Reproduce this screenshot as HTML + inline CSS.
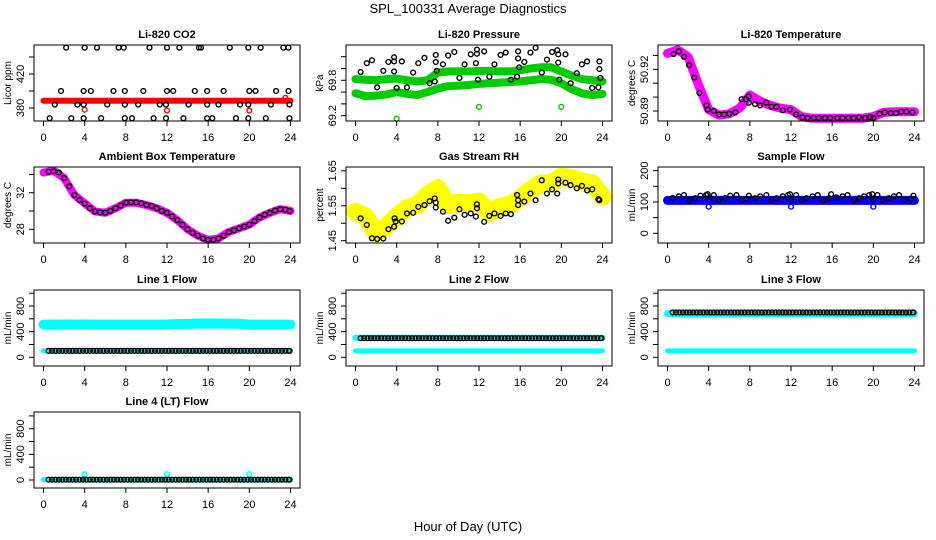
<!DOCTYPE html>
<html><head><meta charset="utf-8"><style>
html,body{margin:0;padding:0;background:#fff;}
svg{display:block;font-family:"Liberation Sans",Arial,sans-serif;}
</style></head><body>
<svg id="chart" width="936" height="540" viewBox="0 0 936 540">
<text x="468" y="13" text-anchor="middle" font-size="13">SPL_100331  Average Diagnostics</text>
<text x="468" y="531" text-anchor="middle" font-size="13">Hour of Day (UTC)</text>
</svg>
<script>
// ---------- data ----------
const hours = [0,1,2,3,4,5,6,7,8,9,10,11,12,13,14,15,16,17,18,19,20,21,22,23,24];
const xTicks = [0,4,8,12,16,20,24];

const co2Red = [388.5,388.5,388.5,388.5,388.5,388.5,388.5,388.5,388.5,388.5,388.5,388.5,388.5,388.5,388.5,388.5,388.5,388.5,388.5,388.5,388.5,388.5,388.5,388.5,388.5];
const co2RedOutT = [4,12,20,23.5];
const co2RedOutV = [378,377,377,392];
const co2BlackT = [2.2,4,5.2,7.3,7.8,10.3,12,13.2,15.1,15.3,18.1,19.9,21.1,23.3,23.8,
 1.7,3.9,4.6,6.8,7.9,9.7,12,12.6,14.7,15.9,17.5,20,20.6,22.6,23.8,
 1.1,3.3,3.9,6.2,7.9,9.2,11.3,11.9,14.1,15.9,17,19.1,19.9,22.1,23.9,
 0.6,2.7,3.9,5.6,7.9,8.6,10.7,11.9,13.6,15.9,16.4,18.7,19.9,21.6,23.9];
const co2BlackV = [451,451,451,451,451,451,451,451,451,451,451,451,451,451,451,
 400,400,400,400,400,400,400,400,400,400,400,400,400,400,400,
 384,384,384,384,384,384,384,384,384,384,384,384,384,384,384,
 368,368,368,368,368,368,368,368,368,368,368,368,368,368,368];

const presUpper = [69.82,69.81,69.80,69.82,69.83,69.80,69.78,69.80,69.93,69.95,69.95,69.95,69.96,69.96,69.95,69.95,69.97,70.00,70.02,70.02,69.95,69.88,69.82,69.80,69.78];
const presLower = [69.58,69.53,69.54,69.56,69.60,69.57,69.55,69.60,69.66,69.70,69.71,69.72,69.74,69.75,69.76,69.77,69.78,69.80,69.82,69.81,69.75,69.65,69.58,69.55,69.57];
const presGreenOutT = [0.1,4,12,20];
const presGreenOutV = [69.8,69.15,69.35,69.35];
const presBlackT = [0.5,1.1,1.6,2.1,2.7,3.2,3.75,3.75,3.75,4,4.5,5,5.6,6.1,6.7,7.2,7.7,7.8,7.8,7.9,8.5,9,9.6,10.1,10.6,11.2,11.7,11.8,11.8,11.9,12.5,13,13.5,14.1,14.6,15.1,15.7,15.8,15.8,15.9,16.4,17,17.5,18.1,18.6,19.1,19.6,19.7,19.7,19.8,20.4,20.9,21.5,22,22.5,23,23.6,23.7,23.7,23.8];
const presBlackV = [69.94,70.09,70.14,69.68,69.96,70.11,70.19,70.12,69.95,69.67,70.12,69.68,69.93,70.09,70.18,69.75,69.78,70.23,70.11,69.96,70.07,70.22,70.28,69.84,70.07,70.24,70.09,70.32,70.25,69.81,70.29,69.86,70.07,70.23,70.27,69.81,69.86,70.29,70.17,70.02,70.11,70.27,70.35,69.93,70.15,70.28,70.31,70.24,70.10,69.81,70.24,69.75,69.92,70.07,70.12,69.67,69.68,70.12,69.99,69.84];

const tempMag = [50.9315,50.934,50.929,50.909,50.891,50.887,50.888,50.892,50.9015,50.897,50.894,50.892,50.891,50.886,50.8848,50.8848,50.8848,50.8848,50.8848,50.8848,50.886,50.889,50.8895,50.8895,50.8895];
const tempBlackT = [0.6,1.1,1.6,2.1,2.6,3.1,3.8,3.9,4.5,5,5.5,6,6.6,7.2,7.6,7.9,7.9,8.5,9,9.6,10.1,10.6,11.2,11.9,12.5,13.1,13.6,14.2,14.7,15.3,15.8,16.5,17,17.6,18.1,18.6,19.2,19.7,20,20.6,21.1,21.7,22.2,22.7,23.2,23.8];
const tempBlackV = [50.931,50.933,50.929,50.923,50.914,50.903,50.894,50.891,50.890,50.8875,50.8875,50.888,50.889,50.8985,50.8985,50.9005,50.896,50.895,50.894,50.896,50.893,50.893,50.8905,50.891,50.8875,50.8855,50.885,50.885,50.885,50.885,50.885,50.885,50.885,50.885,50.885,50.8855,50.885,50.8855,50.885,50.888,50.889,50.8885,50.8885,50.8895,50.8895,50.889];

const ambMag = [34.2,34.4,33.6,31.75,30.85,29.95,29.8,30.3,30.9,30.9,30.65,30.3,29.8,29.0,28.0,27.3,26.85,27.0,27.7,28.1,28.5,29.3,29.8,30.2,30.0];
const ambBlackT = [0.5,1,1.5,2,2.5,3,3.5,4,4.5,5,5.5,6,6.5,7,7.5,8,8.5,9,9.5,10,10.5,11,11.5,12,12.5,13,13.5,14,14.5,15,15.5,16,16.5,17,17.5,18,18.5,19,19.5,20,20.5,21,21.5,22,22.5,23,23.5,23.9];
const ambBlackV = [34.3,34.35,34.2,33.6,32.7,31.75,31.2,30.8,30.3,29.95,29.85,29.8,30.0,30.3,30.6,30.9,30.95,30.95,30.85,30.65,30.55,30.3,30.0,29.8,29.4,29.0,28.5,28.0,27.6,27.3,27.0,26.85,26.85,27.0,27.3,27.7,27.9,28.1,28.3,28.5,28.9,29.3,29.6,29.8,30.05,30.2,30.15,30.0];

const rhYellow = [1.533,1.519,1.471,1.490,1.519,1.543,1.552,1.581,1.600,1.552,1.559,1.557,1.562,1.528,1.547,1.552,1.571,1.595,1.614,1.614,1.633,1.629,1.619,1.614,1.576];
const rhBlackT = [0.5,1.1,1.6,2.1,2.7,3.2,3.75,3.8,3.9,4.5,5,5.6,6.1,6.7,7.2,7.7,7.8,7.8,8.5,9,9.6,10.1,10.6,11.2,11.7,11.8,11.8,12.5,13,13.5,14.1,14.6,15.1,15.7,15.8,15.8,16.4,17,17.5,18.1,18.6,19.1,19.6,19.7,19.7,20.4,20.9,21.5,22,22.5,23,23.6,23.7];
const rhBlackV = [1.514,1.495,1.457,1.455,1.456,1.483,1.490,1.514,1.505,1.505,1.528,1.530,1.547,1.552,1.563,1.571,1.545,1.559,1.533,1.507,1.516,1.540,1.524,1.528,1.519,1.554,1.543,1.504,1.521,1.528,1.521,1.528,1.526,1.581,1.552,1.566,1.562,1.585,1.566,1.623,1.585,1.597,1.585,1.625,1.614,1.616,1.609,1.600,1.607,1.594,1.597,1.569,1.566];

const sampleBlue = [105,105,105,105,105,105,105,105,105,105,105,105,105,105,105,105,105,105,105,105,105,105,105,105,105];
const sampleBlueOutT = [4,12,20];
const sampleBlueOutV = [85,85,85];
const sampleBlackT = [0.5,1.1,1.6,2.1,2.7,3.2,3.75,3.9,4,4.5,5,5.6,6.1,6.7,7.2,7.7,7.9,8.5,9,9.6,10.1,10.6,11.2,11.7,11.9,12,12.5,13,13.5,14.1,14.6,15.1,15.7,15.9,16.4,17,17.5,18.1,18.6,19.1,19.6,19.9,20,20.4,20.9,21.5,22,22.5,23,23.6,23.9];
const sampleBlackV = [113,118,122,105,112,120,122,125,108,122,106,113,120,122,106,110,120,112,118,122,107,112,118,122,125,106,122,107,112,118,122,106,112,125,115,118,122,106,112,118,122,125,105,122,106,112,118,122,107,110,120];

const line1CyanHigh = [510,510,512,512,512,510,510,510,510,510,510,510,512,520,522,525,530,528,525,522,510,510,510,510,510];
const line1CyanLow = [100,100,100,100,100,100,100,100,100,100,100,100,100,100,100,100,100,100,100,100,100,100,100,100,100];
const line1Black = [100,100,100,100,100,100,100,100,100,100,100,100,100,100,100,100,100,100,100,100,100,100,100,100,100];
const line2CyanHigh = [305,305,305,305,305,305,305,305,305,305,305,305,305,305,305,305,305,305,305,305,305,305,305,305,305];
const line2CyanLow = [100,100,100,100,100,100,100,100,100,100,100,100,100,100,100,100,100,100,100,100,100,100,100,100,100];
const line2Black = [298,298,298,298,298,298,298,298,298,298,298,298,298,298,298,298,298,298,298,298,298,298,298,298,298];
const line3CyanHigh = [680,680,675,675,675,675,675,680,680,680,680,680,680,680,680,680,680,680,680,680,680,675,675,680,680];
const line3CyanLow = [100,100,100,100,100,100,100,100,100,100,100,100,100,100,100,100,100,100,100,100,100,100,100,100,100];
const line3Black = [700,700,700,700,700,700,700,700,700,700,700,700,700,700,700,700,700,700,700,700,700,700,700,700,700];
const line4Cyan = [5,5,5,5,5,5,5,5,5,5,5,5,5,5,5,5,5,5,5,5,5,5,5,5,5];
const line4CyanOutT = [4,12,20];
const line4CyanOutV = [90,90,90];
const line4Black = [5,5,5,5,5,5,5,5,5,5,5,5,5,5,5,5,5,5,5,5,5,5,5,5,5];

// ---------- drawing ----------
const NS = 'http://www.w3.org/2000/svg';
const svg = document.getElementById('chart');
const colLeft = [34,346,658];
const rowTop = [45,167,290,412];
const W = 266, H = 76;

function el(tag, attrs, parent) {
  const e = document.createElementNS(NS, tag);
  for (const k in attrs) e.setAttribute(k, attrs[k]);
  parent.appendChild(e);
  return e;
}

function panel(cfg) {
  const left = colLeft[cfg.col], top = rowTop[cfg.row];
  const g = el('g', {}, svg);
  
  
  const x = t => left + 9.5 + t * (247 / 24);
  const y = v => top + (cfg.ymax - v) / (cfg.ymax - cfg.ymin) * H;
  const title = el('text', {x: left + W / 2, y: top - 7, 'text-anchor': 'middle', 'font-size': 11, 'font-weight': 'bold'}, g);
  title.textContent = cfg.title;
  
  
  const plot = el('g', {}, g);
  
  
  const box = el('rect', {x: left, y: top, width: W, height: H, fill: 'none', stroke: '#000', 'stroke-width': 1}, g);
  
  
  xTicks.forEach(t => {
    const tk = el('line', {x1: x(t), x2: x(t), y1: top + H, y2: top + H + 5, stroke: '#000'}, g);
    
    
    const lb = el('text', {x: x(t), y: top + H + 20, 'text-anchor': 'middle', 'font-size': 11}, g);
    lb.textContent = t;
    
    
  });
  cfg.ticks.forEach(v => {
    const tk = el('line', {x1: left - 5, x2: left, y1: y(v), y2: y(v), stroke: '#000'}, g);
    
    
  });
  cfg.labels.forEach(v => {
    const lb = el('text', {x: 0, y: 0, 'text-anchor': 'middle', 'font-size': 11, transform: `translate(${left - 10},${y(v)}) rotate(-90)`}, g);
    lb.textContent = v;
    
    
  });
  const yt = el('text', {x: 0, y: 0, 'text-anchor': 'middle', 'font-size': 10, transform: `translate(${left - 23},${top + H / 2}) rotate(-90)`}, g);
  yt.textContent = cfg.ytitle;
  
  
  return {x, y, g: plot};
}

function band(p, arr, color, width, name) {
  const pts = hours.map((h, i) => p.x(h) + ',' + p.y(arr[i])).join(' ');
  const pl = el('polyline', {points: pts, fill: 'none', stroke: color, 'stroke-width': width, 'stroke-linejoin': 'round', 'stroke-linecap': 'round'}, p.g);
  
  
}
function points(p, ts, vs, color, name) {
  const n = Math.min(ts.length, vs.length);
  for (let i = 0; i < n; i++) {
    const c = el('circle', {cx: p.x(ts[i]), cy: p.y(vs[i]), r: 2.4, fill: 'none', stroke: color, 'stroke-width': 1.4}, p.g);
    
    
  }
}
function hourlyPoints(p, arr, color, name) {
  for (let h = 0; h < 24; h++) {
    for (let k = 0; k < 3; k++) {
      const t = Math.min(23.9, h + 0.5 + k / 3);
      const c = el('circle', {cx: p.x(t), cy: p.y(arr[h]), r: 2.4, fill: 'none', stroke: color, 'stroke-width': 1.4}, p.g);
      
      
    }
  }
}

const flowTicks = [0,200,400,600,800,1000], flowLabels = [0,400,800];

let p = panel({name: 'co2', title: 'Li-820 CO2', col: 0, row: 0, ymin: 364.7, ymax: 454.1, ticks: [380,400,420,440], labels: [380,420], ytitle: 'Licor ppm'});
band(p, co2Red, '#ff0000', 6, 'co2-red-series');
points(p, co2RedOutT, co2RedOutV, '#ff0000', 'co2-red-point');
points(p, co2BlackT, co2BlackV, '#000', 'co2-black-point');

p = panel({name: 'pressure', title: 'Li-820 Pressure', col: 1, row: 0, ymin: 69.110, ymax: 70.398, ticks: [69.2,69.4,69.6,69.8,70.0,70.2], labels: [69.2,69.8], ytitle: 'kPa'});
band(p, presUpper, '#00cc00', 8, 'pressure-green-upper');
band(p, presLower, '#00cc00', 8, 'pressure-green-lower');
points(p, presGreenOutT, presGreenOutV, '#00cc00', 'pressure-green-point');
points(p, presBlackT, presBlackV, '#000', 'pressure-black-point');

p = panel({name: 'li820-temp', title: 'Li-820 Temperature', col: 2, row: 0, ymin: 50.8828, ymax: 50.9375, ticks: [50.89,50.90,50.91,50.92,50.93], labels: [50.89,50.92], ytitle: 'degrees C'});
band(p, tempMag, '#ff00ff', 9, 'li820-temp-magenta');
points(p, tempBlackT, tempBlackV, '#000', 'li820-temp-black-point');

p = panel({name: 'ambient-temp', title: 'Ambient Box Temperature', col: 0, row: 1, ymin: 26.50, ymax: 34.81, ticks: [28,30,32,34], labels: [28,32], ytitle: 'degrees C'});
band(p, ambMag, '#ff00ff', 8, 'ambient-magenta');
points(p, ambBlackT, ambBlackV, '#000', 'ambient-black-point');

p = panel({name: 'gas-rh', title: 'Gas Stream RH', col: 1, row: 1, ymin: 1.4434, ymax: 1.661, ticks: [1.45,1.50,1.55,1.60,1.65], labels: ['1.45','1.55','1.65'].map(Number), ytitle: 'percent'});
band(p, rhYellow, '#ffff00', 18, 'rh-yellow');
points(p, rhBlackT, rhBlackV, '#000', 'rh-black-point');
// fix label formatting for RH
p.g.parentNode.querySelectorAll('text').forEach(t => { if (t.textContent === '1.5' ) t.textContent = '1.50'; });

p = panel({name: 'sample-flow', title: 'Sample Flow', col: 2, row: 1, ymin: -31, ymax: 211.8, ticks: [0,50,100,150,200], labels: [0,100,200], ytitle: 'mL/min'});
band(p, sampleBlue, '#0000ff', 9, 'sample-blue');
points(p, sampleBlueOutT, sampleBlueOutV, '#0000ff', 'sample-blue-point');
points(p, sampleBlackT, sampleBlackV, '#000', 'sample-black-point');

p = panel({name: 'line1-flow', title: 'Line 1 Flow', col: 0, row: 2, ymin: -136, ymax: 1050, ticks: flowTicks, labels: flowLabels, ytitle: 'mL/min'});
band(p, line1CyanHigh, '#00ffff', 10, 'line1-cyan-high');
band(p, line1CyanLow, '#00ffff', 5, 'line1-cyan-low');
hourlyPoints(p, line1Black, '#000', 'line1-black-point');

p = panel({name: 'line2-flow', title: 'Line 2 Flow', col: 1, row: 2, ymin: -136, ymax: 1050, ticks: flowTicks, labels: flowLabels, ytitle: 'mL/min'});
band(p, line2CyanHigh, '#00ffff', 6, 'line2-cyan-high');
band(p, line2CyanLow, '#00ffff', 5, 'line2-cyan-low');
hourlyPoints(p, line2Black, '#000', 'line2-black-point');

p = panel({name: 'line3-flow', title: 'Line 3 Flow', col: 2, row: 2, ymin: -136, ymax: 1050, ticks: flowTicks, labels: flowLabels, ytitle: 'mL/min'});
band(p, line3CyanHigh, '#00ffff', 7, 'line3-cyan-high');
band(p, line3CyanLow, '#00ffff', 5, 'line3-cyan-low');
hourlyPoints(p, line3Black, '#000', 'line3-black-point');

p = panel({name: 'line4-flow', title: 'Line 4 (LT) Flow', col: 0, row: 3, ymin: -125, ymax: 1061, ticks: flowTicks, labels: flowLabels, ytitle: 'mL/min'});
band(p, line4Cyan, '#00ffff', 5, 'line4-cyan');
points(p, line4CyanOutT, line4CyanOutV, '#00ffff', 'line4-cyan-point');
hourlyPoints(p, line4Black, '#000', 'line4-black-point');
</script>
</body></html>
